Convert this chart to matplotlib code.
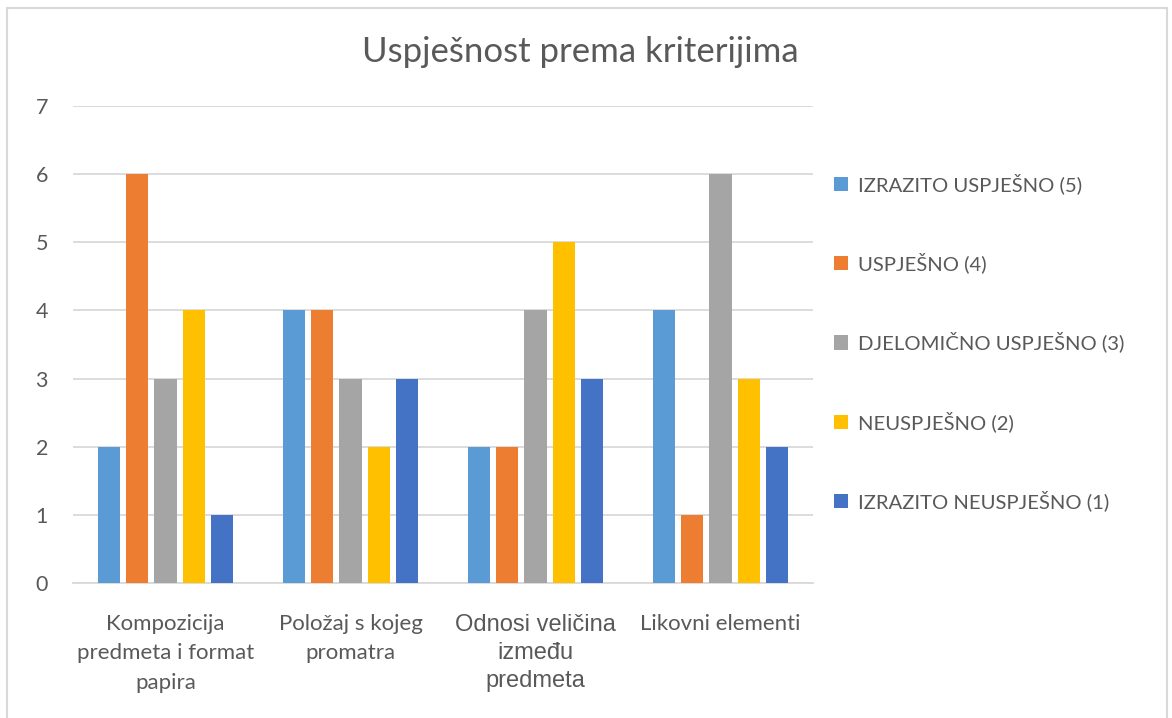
import matplotlib
matplotlib.use("Agg")
import matplotlib.pyplot as plt
from matplotlib.patches import Rectangle
from matplotlib.font_manager import FontProperties
import numpy as np

categories = ["Kompozicija\npredmeta i format\npapira", "Položaj s kojeg\npromatra",
              "Odnosi veličina\nizmeđu\npredmeta", "Likovni elementi"]
series_names = ["IZRAZITO USPJEŠNO (5)", "USPJEŠNO (4)", "DJELOMIČNO USPJEŠNO (3)",
                "NEUSPJEŠNO (2)", "IZRAZITO NEUSPJEŠNO (1)"]
values = [
    [2, 4, 2, 4],
    [6, 4, 2, 1],
    [3, 3, 4, 6],
    [4, 2, 5, 3],
    [1, 3, 3, 2],
]
colors = ["#5B9BD5", "#ED7D31", "#A5A5A5", "#FFC000", "#4472C4"]
yticks = [0, 1, 2, 3, 4, 5, 6, 7]
title = "Uspješnost prema kriterijima"

plt.rcParams['font.family'] = ['Lato', 'DejaVu Sans']
txt = "#595959"

fig = plt.figure(figsize=(11.72, 7.18), dpi=100)
fig.patches.append(Rectangle((7/1172, -0.01), 1160/1172, 1 - 8/718 + 0.01, transform=fig.transFigure,
                             fill=False, edgecolor="#D9D9D9", linewidth=1.5))
ax = fig.add_axes([73/1172, 1 - 583/718, 740/1172, (583 - 106)/718])

x = np.arange(len(categories))
pitch = 0.153
width = 0.119
handles = []
for i, (name, vals, c) in enumerate(zip(series_names, values, colors)):
    h = ax.bar(x + (i - 2) * pitch, vals, width=width, color=c, label=name, zorder=3)
    handles.append(h)

ax.set_xlim(-0.5, 3.5)
ax.set_ylim(0, 7)
ax.set_yticks(yticks)
ax.set_yticklabels([str(t) for t in yticks], fontsize=15.5, color=txt)
ax.yaxis.grid(True, color="#D9D9D9", linewidth=1.3, zorder=0)
ax.tick_params(axis='y', length=0, pad=18)
ax.tick_params(axis='x', length=0, pad=22)
ax.set_xticks(x)
ax.set_xticklabels(categories, color=txt)
for j, lbl in enumerate(ax.get_xticklabels()):
    if j == 2:
        lbl.set_fontproperties(FontProperties(family='Liberation Sans', size=17))
        lbl.set_linespacing(1.38)
    else:
        lbl.set_fontproperties(FontProperties(family='Lato', size=16))
        lbl.set_linespacing(1.62)
for s in ["top", "right", "left"]:
    ax.spines[s].set_visible(False)
ax.spines["bottom"].set_color("#D9D9D9")
ax.spines["bottom"].set_linewidth(1.3)

fig.text(580/1172, 1 - 52/718, title, ha="center", va="center", fontsize=25, color=txt)

leg = fig.legend(handles=handles, loc="upper left", bbox_to_anchor=(816/1172, 1 - 155/718),
                 frameon=False, fontsize=14.6, labelcolor=txt, handlelength=0.7, handleheight=0.7,
                 handletextpad=0.45, labelspacing=2.88)

fig.savefig("out.png", dpi=100)
